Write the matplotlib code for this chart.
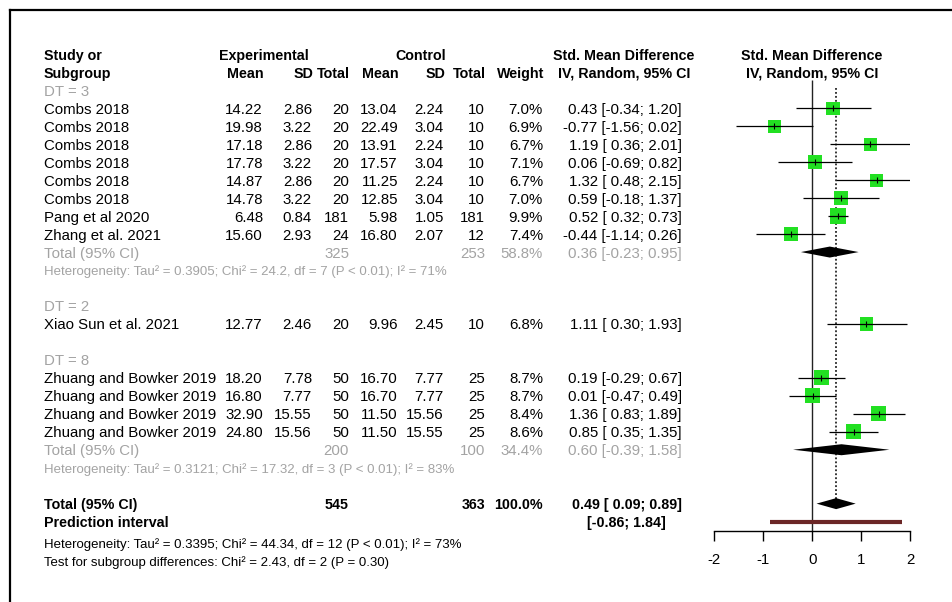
#!/usr/bin/env python3
"""Forest plot of standardised mean differences by DT subgroup (random-effects model)."""

from __future__ import annotations

import matplotlib

matplotlib.use("Agg")
import matplotlib.pyplot as plt
import numpy as np

# per-study data
studies = ["Combs 2018"] * 6 + ["Pang et al 2020", "Zhang et al. 2021", "Xiao Sun et al. 2021"] + ["Zhuang and Bowker 2019"] * 4
group = ["DT = 3"] * 8 + ["DT = 2"] + ["DT = 8"] * 4
exp_mean = [14.22, 19.98, 17.18, 17.78, 14.87, 14.78, 6.48, 15.60, 12.77, 18.20, 16.80, 32.90, 24.80]
exp_sd = [2.86, 3.22, 2.86, 3.22, 2.86, 3.22, 0.84, 2.93, 2.46, 7.78, 7.77, 15.55, 15.56]
exp_n = [20, 20, 20, 20, 20, 20, 181, 24, 20, 50, 50, 50, 50]
ctl_mean = [13.04, 22.49, 13.91, 17.57, 11.25, 12.85, 5.98, 16.80, 9.96, 16.70, 16.70, 11.50, 11.50]
ctl_sd = [2.24, 3.04, 2.24, 3.04, 2.24, 3.04, 1.05, 2.07, 2.45, 7.77, 7.77, 15.56, 15.55]
ctl_n = [10, 10, 10, 10, 10, 10, 181, 12, 10, 25, 25, 25, 25]
weight = [7.0, 6.9, 6.7, 7.1, 6.7, 7.0, 9.9, 7.4, 6.8, 8.7, 8.7, 8.4, 8.6]
smd = [0.43, -0.77, 1.19, 0.06, 1.32, 0.59, 0.52, -0.44, 1.11, 0.19, 0.01, 1.36, 0.85]
ci_lo = [-0.34, -1.56, 0.36, -0.69, 0.48, -0.18, 0.32, -1.14, 0.30, -0.29, -0.47, 0.83, 0.35]
ci_hi = [1.20, 0.02, 2.01, 0.82, 2.15, 1.37, 0.73, 0.26, 1.93, 0.67, 0.49, 1.89, 1.35]

# subgroup summaries (None where the subgroup has a single study)
sub_names = ["DT = 3", "DT = 2", "DT = 8"]
sub_exp_n = [325, None, 200]
sub_ctl_n = [253, None, 100]
sub_weight = [58.8, None, 34.4]
sub_smd = [0.36, None, 0.60]
sub_lo = [-0.23, None, -0.39]
sub_hi = [0.95, None, 1.58]
sub_het = [
    "Heterogeneity: Tau² = 0.3905; Chi² = 24.2, df = 7 (P < 0.01); I² = 71%",
    None,
    "Heterogeneity: Tau² = 0.3121; Chi² = 17.32, df = 3 (P < 0.01); I² = 83%",
]

# overall
total_exp_n = 545
total_ctl_n = 363
total_weight = 100.0
total_smd = 0.49
total_lo = 0.09
total_hi = 0.89
pred_lo = -0.86
pred_hi = 1.84
overall_het = "Heterogeneity: Tau² = 0.3395; Chi² = 44.34, df = 12 (P < 0.01); I² = 73%"
subgroup_test = "Test for subgroup differences: Chi² = 2.43, df = 2 (P = 0.30)"

x_ticks = [-2, -1, 0, 1, 2]

W, H = 953, 602
ROW0, ROW_H = 108.3, 17.97
TEXT_DY = 1.5
LEFT = 44
COLS = {"exp_mean": 263, "exp_sd": 312, "exp_n": 349, "ctl_mean": 398, "ctl_sd": 444,
        "ctl_n": 485, "weight": 543, "ci": 682}
GREY = "#a3a3a3"
FS = 10.8
FS_BOLD = 10.3
FS_SMALL = 9.5


def ypix(k: float) -> float:
    return ROW0 + ROW_H * k


def ci_text(est: float, lo: float, hi: float) -> str:
    return f"{est:.2f} [{lo:5.2f}; {hi:.2f}]"


def put(ax, x, k, s, ha="right", **kw):
    kw.setdefault("fontsize", FS_BOLD if kw.get("fontweight") == "bold" else FS)
    ax.text(x, ypix(k) + TEXT_DY, s, ha=ha, va="center", **kw)


def main() -> None:
    plt.rcParams["font.family"] = ["Liberation Sans", "DejaVu Sans"]
    fig = plt.figure(figsize=(W / 100, H / 100), dpi=100)
    fig.patch.set_facecolor("white")

    tx = fig.add_axes([0, 0, 1, 1])
    tx.set_xlim(0, W)
    tx.set_ylim(H, 0)
    tx.axis("off")

    # frame
    tx.plot([10, W], [10, 10], color="black", lw=1.6, clip_on=False)
    tx.plot([10, 10], [10, H], color="black", lw=1.6, clip_on=False)

    # header
    bold = dict(fontweight="bold")
    put(tx, LEFT, -3, "Study or", ha="left", **bold)
    put(tx, LEFT, -2, "Subgroup", ha="left", **bold)
    put(tx, 263.5, -3, "Experimental", ha="center", **bold)
    put(tx, 420.5, -3, "Control", ha="center", **bold)
    for key, lab in [("exp_mean", "Mean"), ("exp_sd", "SD"), ("exp_n", "Total"), ("ctl_mean", "Mean"),
                     ("ctl_sd", "SD"), ("ctl_n", "Total"), ("weight", "Weight")]:
        put(tx, COLS[key] + 1, -2, lab, **bold)
    put(tx, 624, -3, "Std. Mean Difference", ha="center", **bold)
    put(tx, 624, -2, "IV, Random, 95% CI", ha="center", **bold)
    put(tx, 812, -3, "Std. Mean Difference", ha="center", **bold)
    put(tx, 812, -2, "IV, Random, 95% CI", ha="center", **bold)

    ax = fig.add_axes([714.3 / W, 0, 195.7 / W, 1])
    ax.set_xlim(-2, 2)
    ax.set_ylim(H, 0)
    ax.patch.set_visible(False)
    for side in ("left", "right", "top"):
        ax.spines[side].set_visible(False)
    ax.spines["bottom"].set_position(("data", ypix(23.5)))
    ax.spines["bottom"].set_bounds(-2, 2)
    ax.spines["bottom"].set_linewidth(1.0)
    ax.set_yticks([])
    ax.set_xticks(x_ticks)
    ax.set_xticklabels([str(t) for t in x_ticks])
    ax.tick_params(axis="x", direction="out", length=7.2, width=1.0, pad=9, labelsize=10.8)

    rows_y = []
    k = -1
    idx = np.arange(len(studies))
    for g, name in enumerate(sub_names):
        put(tx, LEFT, k, name, ha="left", color=GREY)
        k += 1
        for i in idx[[grp == name for grp in group]]:
            put(tx, LEFT, k, studies[i], ha="left")
            put(tx, COLS["exp_mean"], k, f"{exp_mean[i]:.2f}")
            put(tx, COLS["exp_sd"], k, f"{exp_sd[i]:.2f}")
            put(tx, COLS["exp_n"], k, f"{exp_n[i]}")
            put(tx, COLS["ctl_mean"], k, f"{ctl_mean[i]:.2f}")
            put(tx, COLS["ctl_sd"], k, f"{ctl_sd[i]:.2f}")
            put(tx, COLS["ctl_n"], k, f"{ctl_n[i]}")
            put(tx, COLS["weight"], k, f"{weight[i]:.1f}%")
            put(tx, COLS["ci"], k, ci_text(smd[i], ci_lo[i], ci_hi[i]))
            rows_y.append(ypix(k))
            k += 1
        if sub_smd[g] is not None:
            put(tx, LEFT, k, "Total (95% CI)", ha="left", color=GREY)
            put(tx, COLS["exp_n"], k, f"{sub_exp_n[g]}", color=GREY)
            put(tx, COLS["ctl_n"], k, f"{sub_ctl_n[g]}", color=GREY)
            put(tx, COLS["weight"], k, f"{sub_weight[g]:.1f}%", color=GREY)
            put(tx, COLS["ci"], k, ci_text(sub_smd[g], sub_lo[g], sub_hi[g]), color=GREY)
            y = ypix(k)
            ax.fill([sub_lo[g], sub_smd[g], sub_hi[g], sub_smd[g]], [y, y - 5.5, y, y + 5.5],
                    color="black", lw=0, zorder=3)
            k += 1
            put(tx, LEFT, k, sub_het[g], ha="left", color=GREY, fontsize=FS_SMALL)
            k += 1
        k += 1

    # overall
    put(tx, LEFT, k, "Total (95% CI)", ha="left", **bold)
    put(tx, COLS["exp_n"], k, f"{total_exp_n}", **bold)
    put(tx, COLS["ctl_n"], k, f"{total_ctl_n}", **bold)
    put(tx, COLS["weight"], k, f"{total_weight:.1f}%", **bold)
    put(tx, COLS["ci"], k, ci_text(total_smd, total_lo, total_hi), **bold)
    y_tot = ypix(k)
    ax.fill([total_lo, total_smd, total_hi, total_smd], [y_tot, y_tot - 5.5, y_tot, y_tot + 5.5],
            color="black", lw=0, zorder=3)
    k += 1
    put(tx, LEFT, k, "Prediction interval", ha="left", **bold)
    put(tx, 626, k, f"[{pred_lo:.2f}; {pred_hi:.2f}]", ha="center", **bold)
    ax.hlines(ypix(k), pred_lo, pred_hi, color="#6b2626", lw=3.0, zorder=3)
    put(tx, LEFT, k + 1.2, overall_het, ha="left", fontsize=FS_SMALL)
    put(tx, LEFT, k + 2.2, subgroup_test, ha="left", fontsize=FS_SMALL)

    # reference lines
    ax.vlines(0, 80, ypix(23.5), color="#222222", lw=1.0, zorder=1)
    ax.vlines(total_smd, 88, y_tot - 5, color="black", lw=1.1, linestyles=(0, (1.2, 1.4)), zorder=1)

    # study estimates
    rows_y = np.array(rows_y)
    side_pt = 5.1 * np.sqrt(np.array(weight)) * 0.72
    ax.scatter(smd, rows_y, s=side_pt ** 2, marker="s", color="#22e022", linewidths=0, zorder=3)
    ax.hlines(rows_y, ci_lo, ci_hi, color="black", lw=0.9, zorder=4)
    ax.scatter(smd, rows_y, s=16, marker="|", color="black", linewidths=0.8, zorder=5)

    fig.savefig("out.png", dpi=100, facecolor="white")


if __name__ == "__main__":
    main()
